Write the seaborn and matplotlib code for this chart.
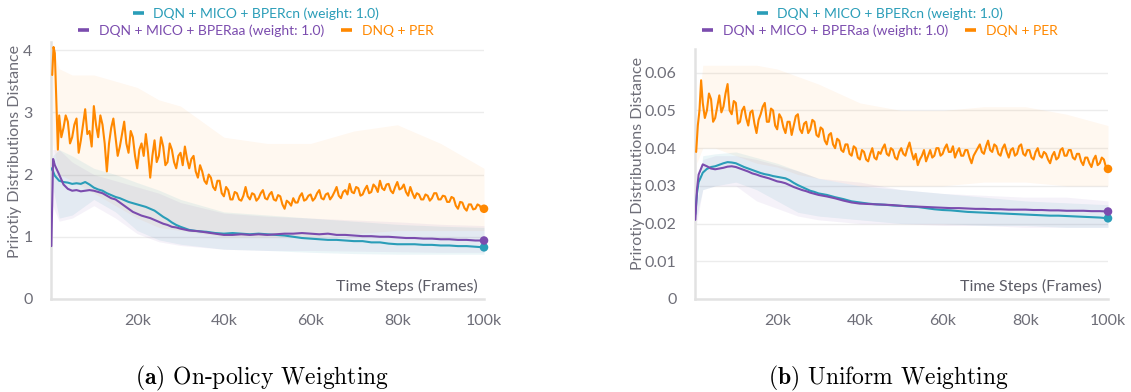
import matplotlib
matplotlib.use("Agg")
import matplotlib.pyplot as plt
from matplotlib.lines import Line2D
import numpy as np
import pandas as pd
import seaborn as sns

# ---------------------------------------------------------------- data
# training steps in thousands of frames
SMOOTH_K = [0.2, 0.6] + list(range(1, 31)) + list(range(32, 101, 2))
ORANGE_LEFT_K = [0.4, 0.7, 1.0, 1.3, 1.7] + list(np.arange(2, 100.01, 0.5))
ORANGE_RIGHT_K = [0.4, 0.8, 1.2, 1.6] + list(np.arange(2, 100.01, 0.5))
BAND_K = [0.5, 2, 5, 10, 15, 20, 25, 30, 40, 50, 60, 70, 80, 90, 100]

# (a) on-policy weighting
cn_left = [2.10, 2.05, 1.98, 1.90, 1.88, 1.87, 1.85, 1.86, 1.85, 1.88, 1.84, 1.79,
           1.76, 1.74, 1.70, 1.67, 1.64, 1.62, 1.59, 1.56, 1.54, 1.52, 1.50, 1.48,
           1.45, 1.42, 1.37, 1.32, 1.28, 1.23, 1.19, 1.16,
           1.11, 1.09, 1.08, 1.06, 1.05, 1.06, 1.05, 1.04, 1.05, 1.04, 1.03, 1.02,
           1.00, 0.98, 0.97, 0.96, 0.95, 0.95, 0.94, 0.93, 0.93, 0.91, 0.91, 0.89,
           0.88, 0.88, 0.88, 0.87, 0.87, 0.86, 0.86, 0.85, 0.85, 0.84, 0.83]
aa_left = [0.85, 2.25, 2.15, 2.00, 1.84, 1.77, 1.74, 1.75, 1.73, 1.74, 1.75, 1.74,
           1.72, 1.70, 1.66, 1.62, 1.60, 1.55, 1.50, 1.45, 1.40, 1.37, 1.34, 1.32,
           1.30, 1.27, 1.24, 1.21, 1.19, 1.16, 1.15, 1.13,
           1.10, 1.09, 1.07, 1.05, 1.03, 1.03, 1.04, 1.03, 1.04, 1.03, 1.04, 1.05,
           1.05, 1.06, 1.05, 1.04, 1.05, 1.03, 1.03, 1.02, 1.01, 1.01, 1.00, 1.00,
           0.99, 0.98, 0.98, 0.97, 0.97, 0.96, 0.96, 0.95, 0.95, 0.94, 0.94]
per_left = [3.60, 4.05, 3.95, 3.30, 2.40,
            2.95, 2.60, 2.75, 2.95, 2.85, 2.50, 2.60, 2.80, 2.90, 2.35,
            2.55, 2.80, 3.05, 2.65, 2.70, 2.45, 3.10, 2.80, 2.60, 2.95,
            2.80, 2.50, 2.05, 2.50, 2.75, 2.90, 2.60, 2.30, 2.45, 2.65,
            2.85, 2.50, 2.35, 2.70, 2.60, 2.30, 2.10, 2.40, 2.50, 2.30,
            2.65, 2.35, 1.95, 2.30, 2.55, 2.20, 2.30, 2.60, 2.45, 2.15,
            2.20, 2.50, 2.40, 2.20, 2.10, 2.30, 2.35, 2.15, 2.45, 2.25,
            2.10, 2.25, 2.30, 2.05, 1.95, 2.15, 2.05, 1.90, 1.85, 2.00,
            1.95, 1.80, 1.75, 1.90, 1.90, 1.70, 1.65, 1.80, 1.75, 1.60,
            1.60, 1.72, 1.70, 1.60, 1.58, 1.66, 1.80, 1.65, 1.60, 1.70,
            1.68, 1.58, 1.62, 1.70, 1.75, 1.62, 1.60, 1.68, 1.72, 1.60,
            1.58, 1.67, 1.65, 1.52, 1.45, 1.58, 1.55, 1.50, 1.62, 1.55,
            1.55, 1.65, 1.70, 1.58, 1.60, 1.66, 1.68, 1.58, 1.62, 1.70,
            1.75, 1.62, 1.60, 1.68, 1.70, 1.60, 1.65, 1.72, 1.80, 1.66,
            1.62, 1.72, 1.75, 1.68, 1.85, 1.72, 1.70, 1.80, 1.78, 1.66,
            1.68, 1.76, 1.82, 1.70, 1.72, 1.84, 1.80, 1.72, 1.90, 1.78,
            1.75, 1.84, 1.85, 1.74, 1.70, 1.80, 1.88, 1.76, 1.78, 1.84,
            1.72, 1.66, 1.80, 1.70, 1.62, 1.70, 1.68, 1.60, 1.60, 1.68,
            1.66, 1.58, 1.62, 1.70, 1.70, 1.60, 1.60, 1.66, 1.65, 1.56,
            1.56, 1.64, 1.62, 1.50, 1.45, 1.56, 1.55, 1.46, 1.42, 1.52,
            1.52, 1.44, 1.45, 1.52, 1.50, 1.43,
            1.45]
cn_left_lo = [1.80, 1.30, 1.35, 1.60, 1.40, 1.10, 0.95, 0.88, 0.80, 0.78, 0.75, 0.73, 0.72, 0.72, 0.72]
cn_left_hi = [2.30, 2.40, 2.30, 2.10, 2.00, 1.87, 1.75, 1.60, 1.40, 1.35, 1.30, 1.25, 1.20, 1.17, 1.15]
aa_left_lo = [1.50, 1.25, 1.30, 1.50, 1.30, 1.05, 0.92, 0.86, 0.80, 0.78, 0.78, 0.77, 0.76, 0.75, 0.75]
aa_left_hi = [2.40, 2.40, 2.20, 2.00, 1.90, 1.80, 1.70, 1.55, 1.38, 1.33, 1.30, 1.27, 1.24, 1.20, 1.18]
per_left_lo = [2.50, 2.00, 1.90, 1.70, 1.50, 1.30, 1.15, 1.10, 1.00, 1.00, 1.00, 1.05, 1.10, 1.10, 1.10]
per_left_hi = [4.00, 3.70, 3.60, 3.60, 3.50, 3.40, 3.20, 3.10, 2.60, 2.50, 2.50, 2.70, 2.80, 2.50, 2.10]

# (b) uniform weighting
cn_right = [0.0225, 0.0280, 0.0310, 0.0335, 0.0345, 0.0350, 0.0352, 0.0356, 0.0360, 0.0363,
            0.0362, 0.0360, 0.0355, 0.0350, 0.0346, 0.0342, 0.0338, 0.0334, 0.0331, 0.0329,
            0.0326, 0.0324, 0.0322, 0.0320, 0.0315, 0.0308, 0.0302, 0.0297, 0.0292, 0.0287,
            0.0284, 0.0280,
            0.0276, 0.0270, 0.0265, 0.0259, 0.0256, 0.0253, 0.0251, 0.0250, 0.0248, 0.0247,
            0.0245, 0.0244, 0.0241, 0.0238, 0.0236, 0.0235, 0.0233, 0.0231, 0.0230, 0.0229,
            0.0228, 0.0227, 0.0226, 0.0225, 0.0224, 0.0223, 0.0222, 0.0221, 0.0221, 0.0220,
            0.0219, 0.0218, 0.0217, 0.0216, 0.0214]
aa_right = [0.0210, 0.0290, 0.0330, 0.0357, 0.0352, 0.0346, 0.0344, 0.0346, 0.0348, 0.0351,
            0.0352, 0.0350, 0.0346, 0.0342, 0.0338, 0.0333, 0.0330, 0.0326, 0.0323, 0.0320,
            0.0316, 0.0312, 0.0310, 0.0307, 0.0302, 0.0297, 0.0293, 0.0289, 0.0286, 0.0282,
            0.0279, 0.0276,
            0.0272, 0.0267, 0.0261, 0.0256, 0.0253, 0.0252, 0.0251, 0.0250, 0.0249, 0.0247,
            0.0246, 0.0245, 0.0244, 0.0243, 0.0242, 0.0241, 0.0241, 0.0240, 0.0239, 0.0239,
            0.0238, 0.0238, 0.0237, 0.0237, 0.0237, 0.0236, 0.0236, 0.0235, 0.0235, 0.0234,
            0.0234, 0.0234, 0.0233, 0.0233, 0.0232]
per_right = [0.0390, 0.0460, 0.0500, 0.0580,
             0.0520, 0.0480, 0.0500, 0.0545, 0.0530, 0.0470, 0.0480, 0.0510, 0.0540, 0.0495,
             0.0510, 0.0545, 0.0570, 0.0500, 0.0490, 0.0525, 0.0520, 0.0465, 0.0470, 0.0500,
             0.0510, 0.0480, 0.0460, 0.0495, 0.0500, 0.0465, 0.0440, 0.0475, 0.0490, 0.0510,
             0.0520, 0.0470, 0.0470, 0.0505, 0.0500, 0.0460, 0.0450, 0.0490, 0.0480, 0.0455,
             0.0440, 0.0470, 0.0470, 0.0435, 0.0460, 0.0485, 0.0490, 0.0450, 0.0440, 0.0465,
             0.0470, 0.0440, 0.0450, 0.0475, 0.0470, 0.0435, 0.0430, 0.0455, 0.0450, 0.0420,
             0.0410, 0.0435, 0.0440, 0.0410, 0.0400, 0.0425, 0.0420, 0.0395, 0.0390, 0.0410,
             0.0410, 0.0385, 0.0380, 0.0405, 0.0400, 0.0375, 0.0370, 0.0395, 0.0390, 0.0370,
             0.0365, 0.0385, 0.0400, 0.0375, 0.0370, 0.0390, 0.0385, 0.0400, 0.0410, 0.0385,
             0.0380, 0.0400, 0.0395, 0.0375, 0.0370, 0.0390, 0.0400, 0.0385, 0.0380, 0.0400,
             0.0415, 0.0390, 0.0370, 0.0385, 0.0355, 0.0370, 0.0380, 0.0395, 0.0365, 0.0380,
             0.0395, 0.0375, 0.0380, 0.0400, 0.0400, 0.0380, 0.0385, 0.0400, 0.0410, 0.0390,
             0.0390, 0.0405, 0.0375, 0.0390, 0.0400, 0.0380, 0.0380, 0.0395, 0.0395, 0.0375,
             0.0360, 0.0380, 0.0390, 0.0400, 0.0410, 0.0390, 0.0385, 0.0405, 0.0420, 0.0395,
             0.0390, 0.0410, 0.0405, 0.0385, 0.0380, 0.0400, 0.0410, 0.0390, 0.0375, 0.0395,
             0.0400, 0.0380, 0.0385, 0.0405, 0.0410, 0.0385, 0.0380, 0.0395, 0.0395, 0.0375,
             0.0370, 0.0390, 0.0400, 0.0380, 0.0375, 0.0390, 0.0385, 0.0370, 0.0360, 0.0380,
             0.0390, 0.0370, 0.0375, 0.0395, 0.0400, 0.0380, 0.0380, 0.0395, 0.0395, 0.0375,
             0.0370, 0.0385, 0.0385, 0.0365, 0.0355, 0.0375, 0.0375, 0.0360, 0.0350, 0.0370,
             0.0380, 0.0355, 0.0360, 0.0375, 0.0370, 0.0350,
             0.0345]
cn_right_lo = [0.022, 0.029, 0.030, 0.031, 0.029, 0.026, 0.023, 0.022, 0.021, 0.020, 0.020, 0.0195, 0.0195, 0.019, 0.019]
cn_right_hi = [0.025, 0.038, 0.0385, 0.039, 0.0375, 0.036, 0.034, 0.032, 0.030, 0.029, 0.028, 0.027, 0.026, 0.0255, 0.025]
aa_right_lo = [0.020, 0.029, 0.030, 0.030, 0.026, 0.024, 0.022, 0.021, 0.020, 0.020, 0.0195, 0.0195, 0.019, 0.019, 0.019]
aa_right_hi = [0.024, 0.037, 0.038, 0.038, 0.037, 0.0355, 0.034, 0.032, 0.031, 0.029, 0.028, 0.0275, 0.027, 0.027, 0.026]
per_right_lo = [0.036, 0.040, 0.040, 0.038, 0.036, 0.035, 0.033, 0.032, 0.030, 0.030, 0.030, 0.031, 0.031, 0.030, 0.030]
per_right_hi = [0.045, 0.062, 0.062, 0.062, 0.062, 0.061, 0.059, 0.057, 0.052, 0.050, 0.050, 0.051, 0.051, 0.049, 0.046]

LABEL_CN = "DQN + MICO + BPERcn (weight: 1.0)"
LABEL_AA = "DQN + MICO + BPERaa (weight: 1.0)"
LABEL_PER_LEFT = "DNQ + PER"
LABEL_PER_RIGHT = "DQN + PER"
Y_LABEL = "Prirotiy Distributions Distance"
X_LABEL = "Time Steps (Frames)"
X_TICKS = [20000, 40000, 60000, 80000, 100000]
X_TICK_LABELS = ["20k", "40k", "60k", "80k", "100k"]
Y_TICKS_LEFT = [0, 1, 2, 3, 4]
Y_TICK_LABELS_LEFT = ["0", "1", "2", "3", "4"]
Y_TICKS_RIGHT = [0, 0.01, 0.02, 0.03, 0.04, 0.05, 0.06]
Y_TICK_LABELS_RIGHT = ["0", "0.01", "0.02", "0.03", "0.04", "0.05", "0.06"]
CAPTION_LEFT = r"$\mathbf{(a)}$ On-policy Weighting"
CAPTION_RIGHT = r"$\mathbf{(b)}$ Uniform Weighting"

# ---------------------------------------------------------------- style
TEAL = "#2a9db8"
PURPLE = "#7b4cae"
ORANGE = "#ff8800"
GRID = "#ececec"
SPINE = "#e2e2e2"
TICK_TXT = "#6e6e78"

sns.set_theme(style="white")
plt.rcParams["font.family"] = ["Lato", "DejaVu Sans"]
plt.rcParams["mathtext.fontset"] = "cm"

W, H = 1131, 392
fig = plt.figure(figsize=(W / 100, H / 100), dpi=100)


def px_axes(left, right, top, bottom):
    return fig.add_axes([left / W, 1 - bottom / H, (right - left) / W, (bottom - top) / H])


def to_frames(ks):
    return np.asarray(ks, dtype=float) * 1000.0


def draw_panel(ax, series, bands, ylim, yticks, yticklabels):
    for (lo, hi, color, alpha) in bands:
        ax.fill_between(to_frames(BAND_K), lo, hi, color=color, alpha=alpha, lw=0, zorder=1)
    for ks, vals, color, lw in series:
        df = pd.DataFrame({"frames": to_frames(ks), "value": vals})
        sns.lineplot(data=df, x="frames", y="value", color=color, lw=lw, ax=ax, zorder=3)
        sns.scatterplot(data=df.tail(1), x="frames", y="value", color=color, s=38,
                        edgecolor="none", ax=ax, zorder=4, clip_on=False)
    ax.set_xlim(0, 100000)
    ax.set_ylim(*ylim)
    ax.set_xticks(X_TICKS)
    ax.set_xticklabels(X_TICK_LABELS)
    ax.set_yticks(yticks)
    ax.set_yticklabels(yticklabels)
    ax.set_xlabel("")
    ax.set_ylabel("")
    ax.grid(axis="y", color=GRID, lw=1.0, zorder=0)
    ax.grid(axis="x", visible=False)
    for s in ("top", "right"):
        ax.spines[s].set_visible(False)
    for s in ("left", "bottom"):
        ax.spines[s].set_color(SPINE)
        ax.spines[s].set_linewidth(1.8)
    ax.tick_params(axis="x", direction="inout", length=12, width=1.0, color=SPINE,
                   labelsize=11.5, labelcolor=TICK_TXT, pad=5)
    ax.tick_params(axis="y", direction="out", length=7, width=1.0, color=SPINE,
                   labelsize=11.5, labelcolor=TICK_TXT, pad=6)
    ax.text(0.985, 0.05, X_LABEL, transform=ax.transAxes, ha="right", va="center",
            fontsize=11.5, color="#5c5c66")
    ax.set_facecolor("white")


ax_l = px_axes(50.5, 484, 42, 299)
ax_r = px_axes(694.5, 1108, 49, 299)

draw_panel(
    ax_l,
    [(SMOOTH_K, cn_left, TEAL, 1.5), (SMOOTH_K, aa_left, PURPLE, 1.5),
     (ORANGE_LEFT_K, per_left, ORANGE, 1.5)],
    [(per_left_lo, per_left_hi, ORANGE, 0.06), (cn_left_lo, cn_left_hi, TEAL, 0.09),
     (aa_left_lo, aa_left_hi, PURPLE, 0.07)],
    (0, 4.13), Y_TICKS_LEFT, Y_TICK_LABELS_LEFT)

draw_panel(
    ax_r,
    [(SMOOTH_K, cn_right, TEAL, 1.5), (SMOOTH_K, aa_right, PURPLE, 1.5),
     (ORANGE_RIGHT_K, per_right, ORANGE, 1.5)],
    [(per_right_lo, per_right_hi, ORANGE, 0.06), (cn_right_lo, cn_right_hi, TEAL, 0.09),
     (aa_right_lo, aa_right_hi, PURPLE, 0.07)],
    (0, 0.0663), Y_TICKS_RIGHT, Y_TICK_LABELS_RIGHT)

# y-axis titles
fig.text(15 / W, 1 - 151 / H, Y_LABEL, rotation=90, ha="center", va="center",
         fontsize=11.5, color="#6e6e78")
fig.text(638 / W, 1 - 164 / H, Y_LABEL, rotation=90, ha="center", va="center",
         fontsize=11.5, color="#6e6e78")


# legends: two rows above each panel
def legend_row(labels, colors, cx, cy):
    handles = [Line2D([0], [0], color=c, lw=2.6, solid_capstyle="butt") for c in colors]
    leg = fig.legend(handles, labels, loc="center", bbox_to_anchor=(cx / W, 1 - cy / H),
                     ncol=len(labels), frameon=False, fontsize=10, handlelength=0.8,
                     handletextpad=0.7, columnspacing=1.2, borderpad=0, labelcolor=colors)
    return leg


legend_row([LABEL_CN], [TEAL], 256, 14)
legend_row([LABEL_AA, LABEL_PER_LEFT], [PURPLE, ORANGE], 256, 31)
legend_row([LABEL_CN], [TEAL], 880, 14)
legend_row([LABEL_AA, LABEL_PER_RIGHT], [PURPLE, ORANGE], 880, 31)

# sub-figure captions
fig.text(262 / W, 1 - 378 / H, CAPTION_LEFT, family="cmr10", fontsize=17,
         ha="center", va="center", color="black")
fig.text(888 / W, 1 - 378 / H, CAPTION_RIGHT, family="cmr10", fontsize=17,
         ha="center", va="center", color="black")

fig.savefig("out.png", dpi=100, facecolor="white")
